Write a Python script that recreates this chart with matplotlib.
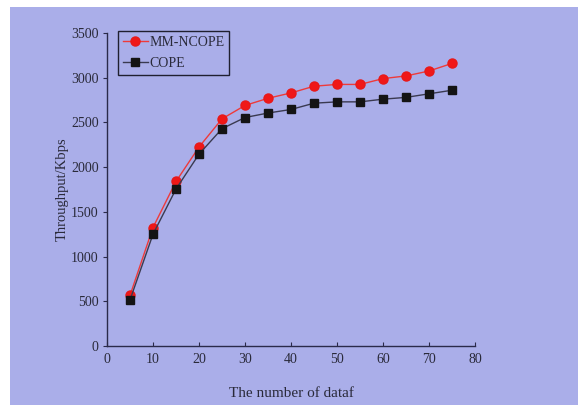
import matplotlib
matplotlib.use("Agg")
import matplotlib.pyplot as plt
from matplotlib.patches import Rectangle

x_vals = [5, 10, 15, 20, 25, 30, 35, 40, 45, 50, 55, 60, 65, 70, 75]
mm_ncope = [565, 1325, 1840, 2225, 2540, 2690, 2770, 2830, 2905, 2925, 2925, 2990, 3020, 3075, 3160]
cope = [515, 1250, 1755, 2145, 2430, 2555, 2605, 2645, 2715, 2730, 2730, 2760, 2780, 2820, 2860]
x_ticks = [0, 10, 20, 30, 40, 50, 60, 70, 80]
y_ticks = [0, 500, 1000, 1500, 2000, 2500, 3000, 3500]

plt.rcParams['font.family'] = ['Liberation Serif', 'DejaVu Serif']

W, H = 578, 405
fig = plt.figure(figsize=(W / 100, H / 100), dpi=100, facecolor='white')
bg = '#aaaee9'
fig.patches.append(Rectangle((10 / W, 0), 1 - 10 / W, 1 - 7 / H, transform=fig.transFigure,
                             facecolor=bg, edgecolor='none', zorder=-10))

ax = fig.add_axes([107 / W, 1 - 346 / H, (475 - 107) / W, (346 - 33) / H])
ax.set_facecolor('none')
ax.set_zorder(5)

ax.plot(x_vals, mm_ncope, color='#ee3a3a', lw=1.0, marker='o', markersize=6.5,
        markerfacecolor='#f01818', markeredgecolor='#e81818', label='MM-NCOPE', zorder=3)
ax.plot(x_vals, cope, color='#3a3a50', lw=1.0, marker='s', markersize=6,
        markerfacecolor='#141414', markeredgecolor='#141414', label='COPE', zorder=3)

ax.set_xlim(0, 80)
ax.set_ylim(0, 3500)
ax.set_xticks(x_ticks)
ax.set_yticks(y_ticks)
for s in ['top', 'right']:
    ax.spines[s].set_visible(False)
for s in ['left', 'bottom']:
    ax.spines[s].set_color('#2a2a4a')
    ax.spines[s].set_linewidth(1.0)
ax.tick_params(axis='x', direction='in', length=3, color='#2a2a4a', labelsize=10,
               labelcolor='#2a2a3a', pad=5)
ax.tick_params(axis='y', direction='out', length=3, color='#2a2a4a', labelsize=10,
               labelcolor='#2a2a3a', pad=3)

ax.set_xlabel('The number of dataf', fontsize=11, color='#2a2a3a', labelpad=15)
ax.set_ylabel('Throughput/Kbps', fontsize=10.5, color='#2a2a3a', labelpad=2)

leg = ax.legend(loc='upper left', bbox_to_anchor=(0.03, 1.005), fontsize=10, frameon=True,
                fancybox=False, edgecolor='#202030', facecolor='none', framealpha=1,
                handlelength=1.8, handletextpad=0.1, borderpad=0.35, labelspacing=0.55,
                borderaxespad=0.0)
leg.get_frame().set_linewidth(1.0)
for t in leg.get_texts():
    t.set_color('#2a2a3a')

fig.savefig('out.png', dpi=100, facecolor=fig.get_facecolor())
